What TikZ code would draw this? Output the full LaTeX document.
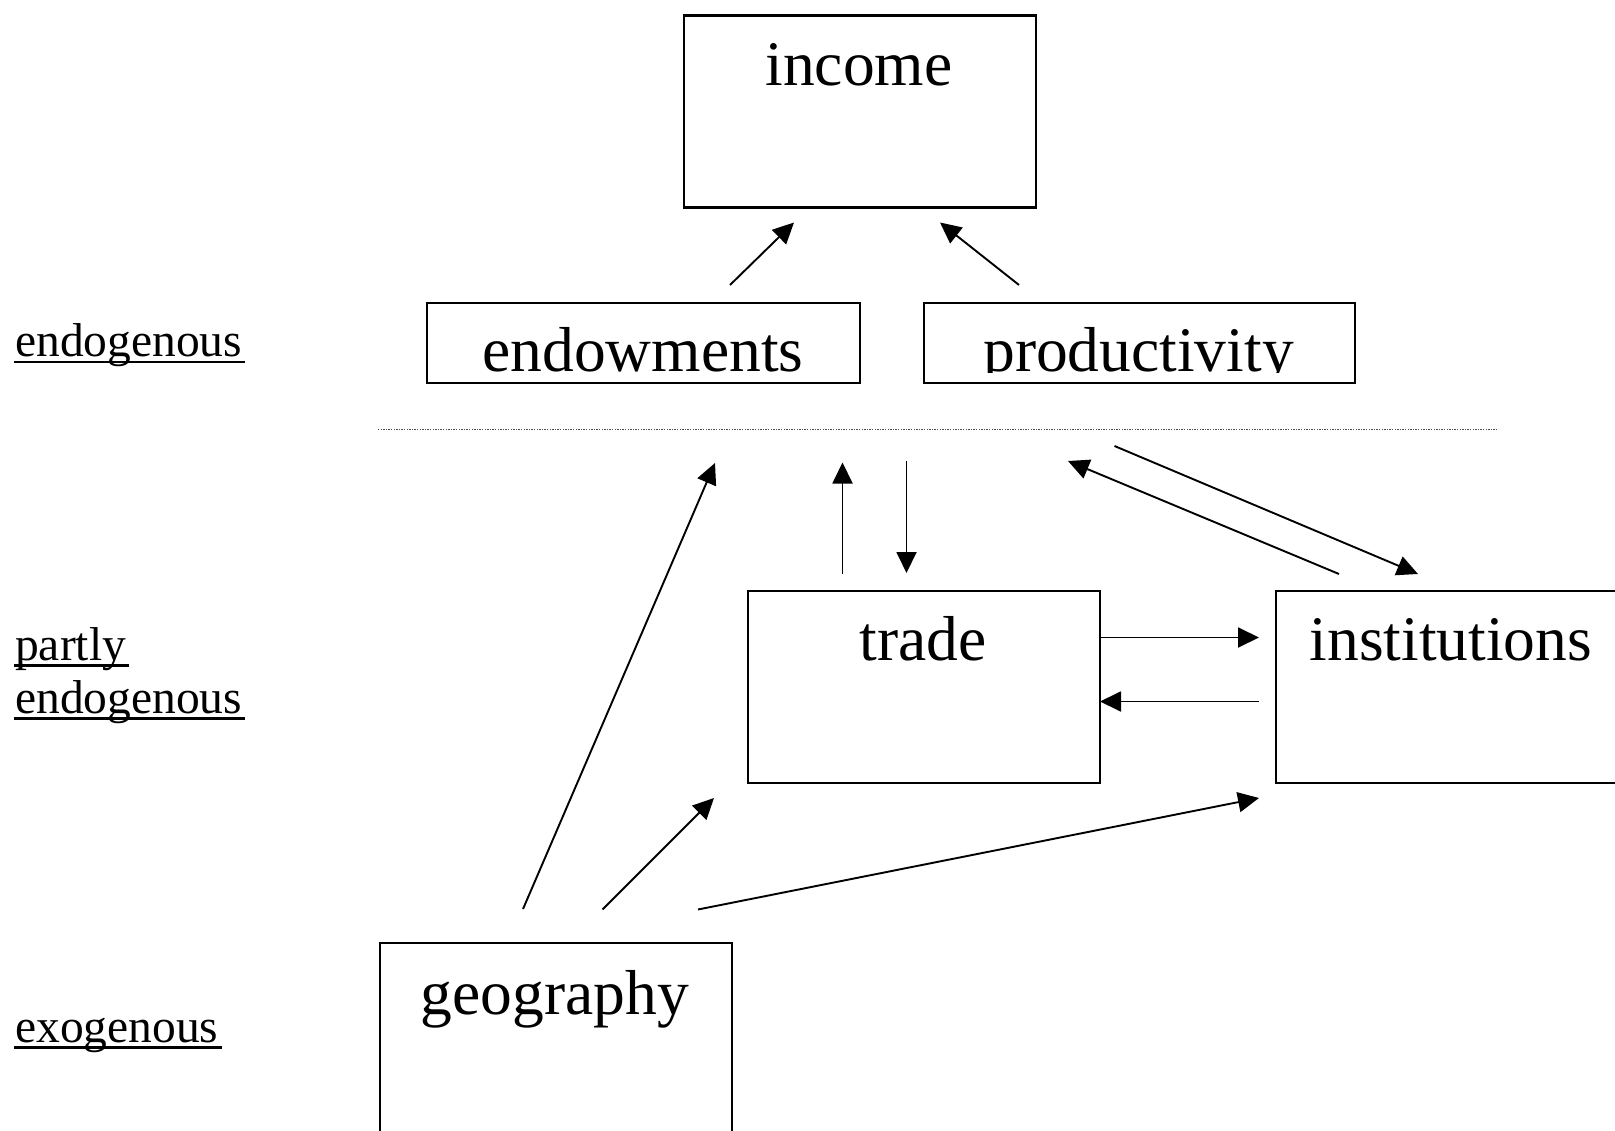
\documentclass[tikz,border=0pt]{standalone}
\usepackage{fontspec}
\setmainfont{Liberation Serif}
\usetikzlibrary{arrows.meta}
\begin{document}
\begin{tikzpicture}[x=1pt,y=-1pt,
  box/.style={draw, line width=2.2pt, inner sep=0pt, anchor=north west},
  big/.style={font=\fontsize{63.5}{70}\selectfont, inner sep=0pt, anchor=base},
  lbl/.style={font=\fontsize{47.5}{53}\selectfont, inner sep=0pt, anchor=base west},
  uline/.style={line width=2.2pt},
  arr/.style={line width=1.9pt, -{Triangle[length=21pt,width=20pt]}},
  sep/.style={black!70, line width=1.4pt, dash pattern=on 1.3pt off 1.3pt}]
\useasboundingbox (0,0) rectangle (1615,1131);
\clip (0,0) rectangle (1615,1131);
% boxes
\node[box, minimum width=352pt, minimum height=192pt] (income) at (683,14.4) {};
\node[box, minimum width=433pt, minimum height=80pt] (endow) at (426,302) {};
\node[box, minimum width=431pt, minimum height=80pt] (prod) at (923,302) {};
\node[box, minimum width=352pt, minimum height=192pt] (trade) at (747,590) {};
\node[box, minimum width=352pt, minimum height=192pt] (inst) at (1275,590) {};
\node[box, minimum width=352pt, minimum height=192pt] (geo) at (379,941.5) {};
% box texts
\node[big] (tincome) at (859,85.5) {income};
\begin{scope}
  \clip (427,303) rectangle (1353,373);
  \node[big] (tendow) at (643,372) {endowments};
  \node[big] (tprod) at (1138.5,372) {productivity};
\end{scope}
\node[big] (ttrade) at (923,660) {trade};
\node[big] (tinst) at (1451,660) {institutions};
\node[big] (tgeo) at (555,1014) {geography};
% side labels
\node[lbl] (l1) at (15,356.5) {endogenous};
\node[lbl] (l2) at (15,660) {partly};
\node[lbl] (l3) at (15,713) {endogenous};
\node[lbl] (l4) at (15,1042) {exogenous};
\foreach \n in {l1,l2,l3,l4}{
  \draw[uline] ([shift={(-1pt,-5.5pt)}]\n.base west) -- ([shift={(3pt,-5.5pt)}]\n.base east);
}
% separator
\coordinate (s1) at (378,429.5);
\coordinate (s2) at (1497,429.5);
\draw[sep] (s1) -- (s2);
% arrow endpoints
\coordinate (a1s) at (730,285);   \coordinate (a1e) at (794,222.5);
\coordinate (a2s) at (1019,285);  \coordinate (a2e) at (940,222.5);
\coordinate (a3s) at (523,909);   \coordinate (a3e) at (715,463);
\coordinate (a4s) at (842.5,574); \coordinate (a4e) at (842.5,462.5);
\coordinate (a5s) at (906.5,461); \coordinate (a5e) at (906.5,573);
\coordinate (a6s) at (1339,574);  \coordinate (a6e) at (1068,461);
\coordinate (a7s) at (1114.5,446);\coordinate (a7e) at (1418,574);
\coordinate (a8s) at (1100,637.5);\coordinate (a8e) at (1259,637.5);
\coordinate (a9s) at (1259,701.5);\coordinate (a9e) at (1100,701.5);
\coordinate (a10s) at (602.5,909.5);\coordinate (a10e) at (714,798);
\coordinate (a11s) at (698,909.5);\coordinate (a11e) at (1259,798);
\foreach \i in {1,...,11}{
  \draw[arr] (a\i s) -- (a\i e);
}
\end{tikzpicture}
\end{document}
